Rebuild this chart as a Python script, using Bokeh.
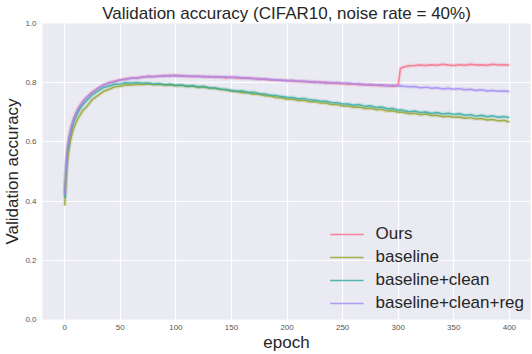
from bokeh.plotting import figure
from bokeh.models import Range1d, FixedTicker, Legend, LegendItem, NumeralTickFormatter
from bokeh.embed import file_html
from bokeh.resources import INLINE

epochs = [0, 1, 2, 3, 4, 6, 8, 10, 12, 14, 16, 18] + list(range(20, 301, 5)) + [302] + list(range(305, 401, 5))

ours = [0.425, 0.505, 0.560, 0.592, 0.618, 0.652, 0.678, 0.697, 0.712, 0.724, 0.735, 0.744,
        0.752, 0.769, 0.781, 0.793, 0.799, 0.805, 0.809, 0.813, 0.815, 0.817, 0.818, 0.822, 0.821, 0.822, 0.824, 0.823, 0.826,
        0.822, 0.823, 0.820, 0.823, 0.819, 0.821, 0.818, 0.820, 0.816, 0.819, 0.816, 0.817, 0.814, 0.815, 0.811, 0.813, 0.809, 0.810, 0.807, 0.808,
        0.805, 0.806, 0.803, 0.804, 0.801, 0.802, 0.798, 0.800, 0.797, 0.798, 0.795, 0.796, 0.793, 0.794, 0.791, 0.792, 0.790, 0.791, 0.788, 0.792,
        0.848,
        0.853, 0.857, 0.858, 0.860, 0.858, 0.861, 0.859, 0.862, 0.860, 0.858, 0.861, 0.859, 0.862, 0.860, 0.861, 0.859, 0.862, 0.860, 0.861, 0.859]

baseline = [0.385, 0.460, 0.520, 0.556, 0.580, 0.620, 0.646, 0.664, 0.681, 0.692, 0.705, 0.712,
            0.720, 0.744, 0.757, 0.771, 0.778, 0.786, 0.788, 0.793, 0.792, 0.795, 0.794, 0.796, 0.793, 0.795, 0.792, 0.793, 0.790,
            0.791, 0.787, 0.789, 0.784, 0.786, 0.781, 0.781, 0.777, 0.776, 0.771,
            0.770, 0.766, 0.766, 0.761, 0.761, 0.756, 0.755, 0.750, 0.749, 0.744,
            0.745, 0.740, 0.741, 0.736, 0.736, 0.731, 0.731, 0.726, 0.726, 0.721,
            0.721, 0.717, 0.718, 0.713, 0.714, 0.709, 0.710, 0.704, 0.705, 0.700,
            0.701,
            0.699, 0.695, 0.697, 0.692, 0.694, 0.689, 0.690, 0.685, 0.687, 0.683,
            0.684, 0.680, 0.682, 0.677, 0.679, 0.674, 0.676, 0.671, 0.673, 0.667]

baseline_clean = [0.410, 0.490, 0.545, 0.580, 0.606, 0.640, 0.666, 0.686, 0.700, 0.714, 0.724, 0.733,
                  0.741, 0.760, 0.772, 0.784, 0.789, 0.795, 0.796, 0.800, 0.799, 0.801, 0.798, 0.799, 0.796, 0.797, 0.793, 0.795, 0.791,
                  0.792, 0.789, 0.790, 0.786, 0.787, 0.783, 0.782, 0.779, 0.777, 0.774,
                  0.771, 0.772, 0.767, 0.768, 0.763, 0.762, 0.758, 0.757, 0.753, 0.751,
                  0.750, 0.746, 0.747, 0.742, 0.741, 0.738, 0.737, 0.733, 0.732, 0.728,
                  0.728, 0.724, 0.726, 0.720, 0.722, 0.716, 0.718, 0.712, 0.713, 0.707,
                  0.709,
                  0.706, 0.702, 0.704, 0.699, 0.701, 0.696, 0.699, 0.694, 0.697, 0.693,
                  0.695, 0.690, 0.692, 0.687, 0.690, 0.685, 0.688, 0.683, 0.686, 0.682]

baseline_clean_reg = [0.420, 0.500, 0.555, 0.590, 0.615, 0.650, 0.676, 0.694, 0.711, 0.722, 0.734, 0.742,
                      0.751, 0.767, 0.782, 0.791, 0.800, 0.803, 0.810, 0.811, 0.816, 0.815, 0.819, 0.821, 0.820, 0.823, 0.822, 0.825, 0.822,
                      0.824, 0.821, 0.823, 0.820, 0.822, 0.819, 0.821, 0.818, 0.820, 0.817, 0.819, 0.815, 0.817, 0.813, 0.814, 0.811, 0.812, 0.808, 0.810, 0.806,
                      0.808, 0.804, 0.806, 0.802, 0.804, 0.800, 0.802, 0.799, 0.801, 0.797, 0.799, 0.796, 0.797, 0.793, 0.795, 0.791, 0.793, 0.789, 0.791, 0.789,
                      0.790,
                      0.788, 0.786, 0.787, 0.783, 0.785, 0.781, 0.783, 0.779, 0.781, 0.778, 0.780, 0.776, 0.778, 0.774, 0.776, 0.772, 0.774, 0.771, 0.772, 0.770]

series_names = ["Ours", "baseline", "baseline+clean", "baseline+clean+reg"]
series_values = [ours, baseline, baseline_clean, baseline_clean_reg]
colors = ["#f77189", "#97a431", "#36ada4", "#a48cf4"]

x_ticks = [0, 50, 100, 150, 200, 250, 300, 350, 400]
y_ticks = [0.0, 0.2, 0.4, 0.6, 0.8, 1.0]

FONT = "Liberation Sans"

p = figure(width=532, height=354, output_backend="svg", toolbar_location=None,
           x_range=Range1d(-20, 419), y_range=Range1d(0, 1),
           title="Validation accuracy (CIFAR10, noise rate = 40%)",
           min_border_left=0, min_border_right=2, min_border_top=0, min_border_bottom=0)

p.background_fill_color = "#EAEAF2"
p.border_fill_color = "white"
p.outline_line_color = None

p.title.text_font = FONT
p.title.text_font_size = "17px"
p.title.text_font_style = "normal"
p.title.text_color = "#262626"
p.title.align = "center"
p.title.offset = 20
p.title.standoff = 2

for ax in (p.xaxis[0], p.yaxis[0]):
    ax.axis_line_color = None
    ax.major_tick_line_color = None
    ax.minor_tick_line_color = None
    ax.major_tick_out = 0
    ax.major_tick_in = 0
    ax.minor_tick_out = 0
    ax.minor_tick_in = 0
    ax.major_label_text_font = FONT
    ax.major_label_text_font_size = "8px"
    ax.major_label_text_color = "#555555"
    ax.axis_label_text_font = FONT
    ax.axis_label_text_font_size = "17px"
    ax.axis_label_text_font_style = "normal"
    ax.axis_label_text_color = "#262626"

p.xaxis.ticker = FixedTicker(ticks=x_ticks)
p.yaxis.ticker = FixedTicker(ticks=y_ticks)
p.yaxis.formatter = NumeralTickFormatter(format="0.0")
p.xaxis.axis_label = "epoch"
p.yaxis.axis_label = "Validation accuracy"
p.xaxis.major_label_standoff = 5
p.yaxis.major_label_standoff = 6
p.xaxis.axis_label_standoff = 0
p.yaxis.axis_label_standoff = 0

p.xgrid.grid_line_color = "white"
p.ygrid.grid_line_color = "white"
p.xgrid.grid_line_width = 1.2
p.ygrid.grid_line_width = 1.2

items = []
for name, vals, c in zip(series_names, series_values, colors):
    p.line(epochs, vals, line_color=c, line_width=4, line_alpha=0.2)
for name, vals, c in zip(series_names, series_values, colors):
    r = p.line(epochs, vals, line_color=c, line_width=1.5, line_alpha=0.85)
    items.append(LegendItem(label=name, renderers=[r]))

legend = Legend(items=items, location="bottom_right")
legend.background_fill_alpha = 0
legend.border_line_alpha = 0
legend.label_text_font = FONT
legend.label_text_font_size = "17px"
legend.label_text_color = "#262626"
legend.glyph_width = 34
legend.glyph_height = 20
legend.label_standoff = 12
legend.label_height = 20
legend.spacing = 3
legend.margin = 2
legend.padding = 4
p.add_layout(legend)

open("out.html", "w").write(file_html(p, INLINE))
